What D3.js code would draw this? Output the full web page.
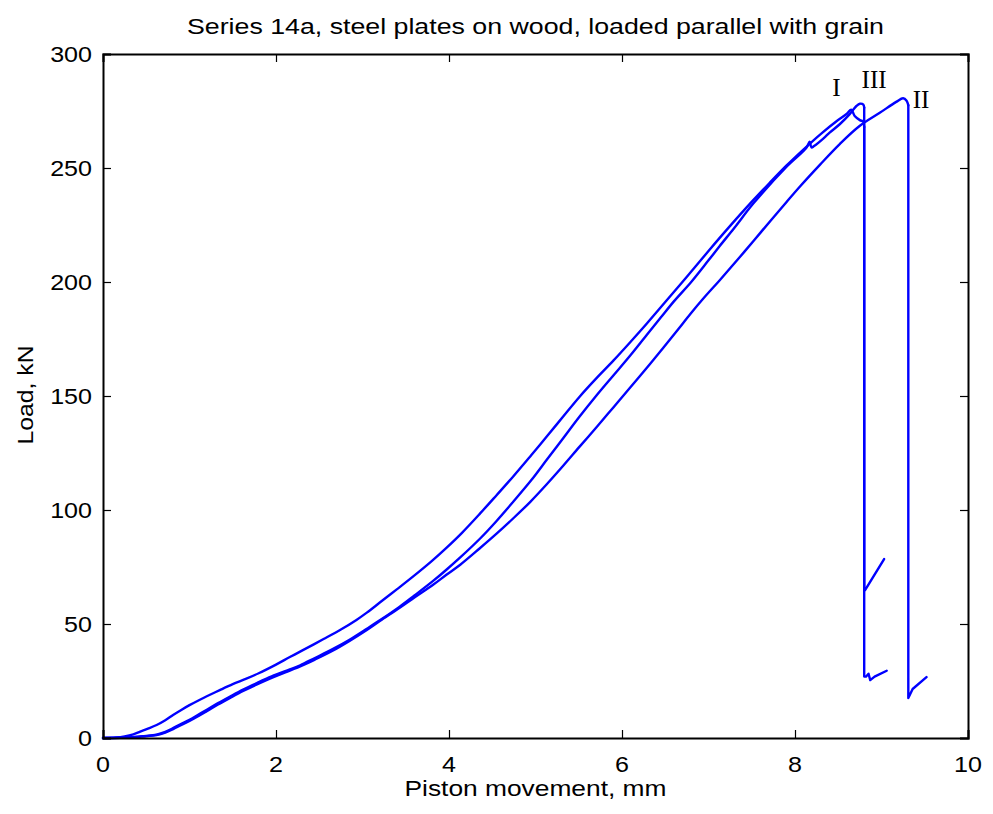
<!DOCTYPE html>
<html>
<head>
<meta charset="utf-8">
<script src="https://cdn.jsdelivr.net/npm/d3@7"></script>
<style>
  html, body { margin: 0; padding: 0; background: #fff; }
  svg { display: block; }
</style>
</head>
<body>
<script>
// ---------- data (Piston movement mm, Load kN) ----------
const titleText = "Series 14a, steel plates on wood, loaded parallel with grain";
const xLabelText = "Piston movement, mm";
const yLabelText = "Load, kN";
const xTicks = [0, 2, 4, 6, 8, 10];
const yTicks = [0, 50, 100, 150, 200, 250, 300];

const curveI = [
  [0,0],[0.15,0.2],[0.25,0.7],[0.35,1.6],[0.43,2.8],[0.52,4.1],[0.62,5.7],[0.72,7.8],
  [0.81,10.1],[0.9,12.2],[1.0,14.4],[1.12,16.8],[1.2,18.3],[1.35,21.0],[1.5,23.6],
  [1.65,25.9],[1.8,28.4],[2.0,32.2],[2.16,35.5],[2.3,38.3],[2.55,43.4],[2.75,47.6],
  [2.93,51.8],[3.05,55.0],[3.2,59.4],[3.4,65.3],[3.59,71.0],[3.8,77.6],[3.97,83.4],
  [4.15,90.0],[4.36,98.5],[4.55,106.5],[4.74,114.6],[4.95,124.0],[5.13,132.2],
  [5.32,141.0],[5.51,149.7],[5.7,157.6],[5.9,165.5],[6.1,173.8],[6.29,181.9],
  [6.5,191.2],[6.75,202.3],[7.0,213.6],[7.25,224.6],[7.52,236.0],[7.7,243.2],
  [7.9,251.0],[8.1,258.2],[8.3,265.0],[8.48,270.5],[8.6,273.8],[8.65,275.6],
  [8.69,272.8],[8.75,271.0],[8.79,270.3],[8.80,268.0],[8.80,27.0],[8.82,26.9],
  [8.85,28.2],[8.87,25.4],[8.92,26.9],[9.06,29.5]
];

const curveII = [
  [0,0],[0.2,0.1],[0.35,0.3],[0.5,0.8],[0.62,1.3],[0.72,2.4],[0.81,3.9],[0.9,5.6],
  [1.0,7.5],[1.1,9.6],[1.2,11.8],[1.33,14.7],[1.47,17.6],[1.62,20.6],[1.78,23.5],
  [1.95,26.4],[2.16,29.6],[2.28,31.4],[2.45,34.4],[2.66,38.4],[2.85,42.6],[3.05,47.4],
  [3.2,51.3],[3.43,57.1],[3.6,61.6],[3.82,67.3],[3.97,71.6],[4.13,76.0],[4.35,83.0],
  [4.55,89.6],[4.75,96.6],[4.94,103.6],[5.13,111.3],[5.32,119.4],[5.51,127.8],
  [5.71,136.5],[5.9,145.0],[6.09,153.5],[6.29,162.5],[6.48,171.3],[6.65,179.3],
  [6.79,186.0],[6.95,193.2],[7.13,200.8],[7.33,209.5],[7.52,218.0],[7.72,227.0],
  [7.9,235.0],[8.06,242.0],[8.29,251.5],[8.52,260.6],[8.75,268.5],[8.98,274.2],
  [9.17,279.0],[9.25,280.6],[9.29,279.5],[9.31,277.5],[9.31,17.5],[9.36,21.5],[9.52,26.7]
];

const curveIII = [
  [0,0],[0.2,0.1],[0.3,0.3],[0.4,0.6],[0.5,0.9],[0.62,1.5],[0.72,2.7],[0.81,4.3],
  [0.9,6.1],[1.0,8.0],[1.1,10.2],[1.2,12.4],[1.33,15.3],[1.47,18.2],[1.62,21.2],
  [1.78,24.1],[1.95,27.0],[2.16,30.1],[2.28,31.9],[2.45,35.1],[2.66,39.1],[2.85,43.1],
  [3.05,47.9],[3.2,51.6],[3.43,57.6],[3.6,62.5],[3.82,69.0],[3.97,73.8],[4.13,79.2],
  [4.36,87.5],[4.55,95.2],[4.74,103.5],[4.95,113.0],[5.13,122.0],[5.32,131.5],
  [5.51,141.0],[5.7,150.0],[5.9,159.0],[6.1,168.0],[6.29,177.0],[6.45,184.5],
  [6.6,191.5],[6.8,200.0],[7.0,209.5],[7.13,215.8],[7.3,223.8],[7.52,234.5],[7.9,250.5],
  [8.13,258.8],[8.17,261.5],[8.19,259.0],[8.22,259.6],[8.33,263.0],[8.4,265.5],
  [8.52,269.3],[8.63,273.5],[8.71,277.2],[8.75,278.2],[8.79,277.8],[8.80,276.5],
  [8.80,64.9],[8.81,64.9],[9.03,78.5]
];

const curves = [curveI, curveII, curveIII];
const curveNames = ["I", "II", "III"];
const labelX = [8.43, 9.36, 8.77];
const labelY = [281.6, 276.3, 285.1];

// ---------- drawing ----------
const W = 993, H = 814;
const mLeft = 103, mRight = 968, mTop = 54, mBottom = 738;

const svg = d3.select("body").append("svg")
  .attr("width", W).attr("height", H)
  .style("background", "#fff");

const x = d3.scaleLinear().domain([0, 10]).range([mLeft, mRight]);
const y = d3.scaleLinear().domain([0, 300]).range([mBottom, mTop]);

const sansFont = "'Liberation Sans', Arial, Helvetica, sans-serif";
const serifFont = "'Liberation Serif', 'Times New Roman', serif";
const stretch = 1.14;

function stretchedText(parent, px, py, str, size, anchor, rotate, family) {
  const g = parent.append("g")
    .attr("transform", `translate(${px},${py})` + (rotate ? ` rotate(${rotate})` : "") + ` scale(${stretch},1)`);
  return g.append("text")
    .attr("x", 0).attr("y", 0)
    .attr("font-family", family || sansFont)
    .attr("font-size", size)
    .attr("text-anchor", anchor)
    .attr("fill", "#000")
    .text(str);
}

// curves: smooth rising part, straight failure drop and tail
const smoothLine = d3.line().x(d => x(d[0])).y(d => y(d[1])).curve(d3.curveCatmullRom.alpha(0.5));
const straightLine = d3.line().x(d => x(d[0])).y(d => y(d[1]));
const gCurves = svg.append("g");
curves.forEach(c => {
  let k = c.findIndex((d, i) => i > 0 && c[i - 1][1] - d[1] > 100);
  if (k < 0) k = c.length;
  const rise = c.slice(0, k);
  const tail = c.slice(k - 1);
  [[rise, smoothLine], [tail, straightLine]].forEach(([pts, gen]) => {
    if (pts.length < 2) return;
    gCurves.append("path")
      .attr("d", gen(pts))
      .attr("fill", "none")
      .attr("stroke", "#0000ff")
      .attr("stroke-width", 2.4)
      .attr("stroke-linejoin", "round")
      .attr("stroke-linecap", "round");
  });
});

// axes (MATLAB style box, ticks inside)
const tickLen = 8;
const axB = svg.append("g").attr("transform", `translate(0,${mBottom})`)
  .call(d3.axisBottom(x).tickValues(xTicks).tickSize(-tickLen).tickFormat(""));
const axT = svg.append("g").attr("transform", `translate(0,${mTop})`)
  .call(d3.axisTop(x).tickValues(xTicks).tickSize(-tickLen).tickFormat(""));
const axL = svg.append("g").attr("transform", `translate(${mLeft},0)`)
  .call(d3.axisLeft(y).tickValues(yTicks).tickSize(-tickLen).tickFormat(""));
const axR = svg.append("g").attr("transform", `translate(${mRight},0)`)
  .call(d3.axisRight(y).tickValues(yTicks).tickSize(-tickLen).tickFormat(""));
[axB, axT, axL, axR].forEach(a => {
  a.select(".domain").attr("stroke", "#000").attr("stroke-width", 2);
  a.selectAll(".tick line").attr("stroke", "#000").attr("stroke-width", 1.2);
});

// tick labels
const tickSize = 22;
xTicks.forEach(t => stretchedText(svg, x(t), mBottom + 34, String(t), tickSize, "middle"));
yTicks.forEach(t => stretchedText(svg, mLeft - 11, y(t) + 8, String(t), tickSize, "end"));

// titles
stretchedText(svg, (mLeft + mRight) / 2, 34, titleText, 22, "middle")
  .attr("textLength", 697 / stretch).attr("lengthAdjust", "spacingAndGlyphs");
stretchedText(svg, (mLeft + mRight) / 2, 796, xLabelText, 22, "middle")
  .attr("textLength", 262 / stretch).attr("lengthAdjust", "spacingAndGlyphs");
stretchedText(svg, 33, (mTop + mBottom) / 2 - 1, yLabelText, 22, "middle", -90)
  .attr("textLength", 99 / stretch).attr("lengthAdjust", "spacingAndGlyphs");

// curve labels
curveNames.forEach((n, i) => {
  svg.append("text")
    .attr("x", x(labelX[i])).attr("y", y(labelY[i]))
    .attr("font-family", serifFont)
    .attr("font-size", 25)
    .attr("fill", "#000")
    .text(n);
});
</script>
</body>
</html>
